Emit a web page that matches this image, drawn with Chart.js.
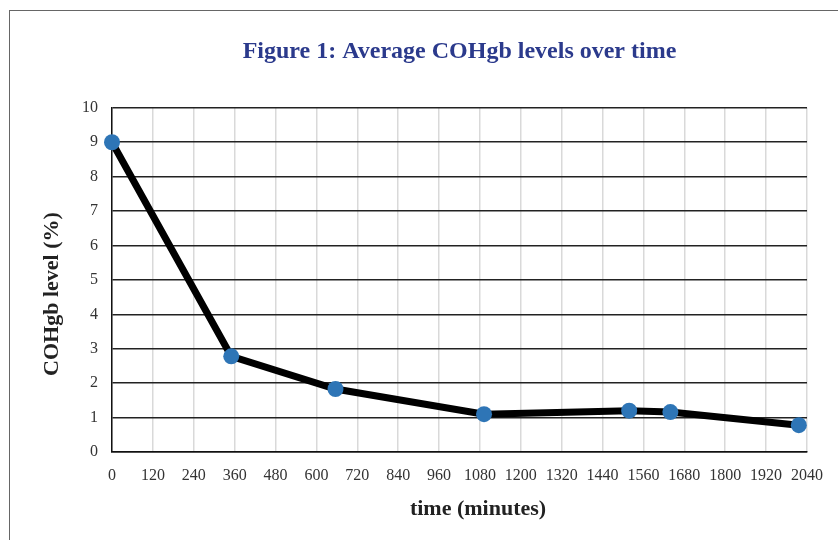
<!DOCTYPE html>
<html>
<head>
<meta charset="utf-8">
<script src="https://cdn.jsdelivr.net/npm/chart.js@4"></script>
<style>
  html, body { margin: 0; padding: 0; background: #fff; }
  #wrap { position: relative; width: 838px; height: 540px; overflow: hidden; }
  #frame { position: absolute; left: 9px; top: 10px; width: 900px; height: 600px;
           border-left: 1px solid #666; border-top: 1px solid #666; }
  canvas { position: absolute; left: 0; top: 0; }
</style>
</head>
<body>
<div id="wrap">
  <div id="frame"></div>
  <canvas id="cohgb" width="838" height="540"></canvas>
</div>
<script>
// time points (minutes) and average COHgb (%)
const timeMinutes = [0, 350, 656, 1092, 1518, 1639, 2016];
const cohgbLevel = [9.0, 2.78, 1.83, 1.10, 1.20, 1.16, 0.78];

const chartTitle = 'Figure 1: Average COHgb levels over time';
const xTitle = 'time (minutes)';
const yTitle = 'COHgb level (%)';

const serif = '"Liberation Serif", "Times New Roman", serif';

// axis titles drawn relative to the plot area
const axisTitles = {
  id: 'axisTitles',
  afterDraw(chart) {
    const { ctx, chartArea } = chart;
    ctx.save();
    ctx.fillStyle = '#222';
    ctx.font = 'bold 22px ' + serif;
    ctx.textAlign = 'center';
    ctx.textBaseline = 'middle';
    ctx.fillText(xTitle, 478, chartArea.bottom + 57);
    ctx.translate(52, 294);
    ctx.rotate(-Math.PI / 2);
    ctx.fillText(yTitle, 0, 0);
    ctx.restore();
  }
};

const points = timeMinutes.map((t, i) => ({ x: t, y: cohgbLevel[i] }));

new Chart(document.getElementById('cohgb'), {
  type: 'scatter',
  data: {
    datasets: [{
      label: 'COHgb',
      data: points,
      showLine: true,
      borderColor: '#000',
      borderWidth: 7,
      pointRadius: 8,
      pointHoverRadius: 8,
      pointBackgroundColor: '#2e75b6',
      pointBorderColor: '#2e75b6',
      pointBorderWidth: 0,
      clip: false
    }]
  },
  options: {
    responsive: false,
    animation: false,
    layout: { padding: { left: 0, right: 31, top: 0, bottom: 0 } },
    plugins: {
      legend: { display: false },
      tooltip: { enabled: false },
      title: {
        display: true,
        text: chartTitle,
        fullSize: false,
        color: '#2b3a8c',
        font: { family: serif, size: 24, weight: 'bold' },
        padding: { top: 37, bottom: 42 }
      }
    },
    scales: {
      x: {
        type: 'linear', min: 0, max: 2040,
        afterFit: s => { s.height = 88; },
        ticks: { stepSize: 120, color: '#333', padding: 14, maxRotation: 0, autoSkip: false,
                 callback: v => String(v),
                 font: { family: serif, size: 16 } },
        grid: { color: '#d9d9d9', lineWidth: 1.5, drawTicks: false },
        border: { color: '#111', width: 1.5 }
      },
      y: {
        min: 0, max: 10,
        afterFit: s => { s.width = 112; },
        ticks: { stepSize: 1, color: '#333', padding: 14,
                 font: { family: serif, size: 16 } },
        grid: { color: '#222', lineWidth: 1.5, drawTicks: false },
        border: { color: '#111', width: 1.5 }
      }
    }
  },
  plugins: [axisTitles]
});
</script>
</body>
</html>
